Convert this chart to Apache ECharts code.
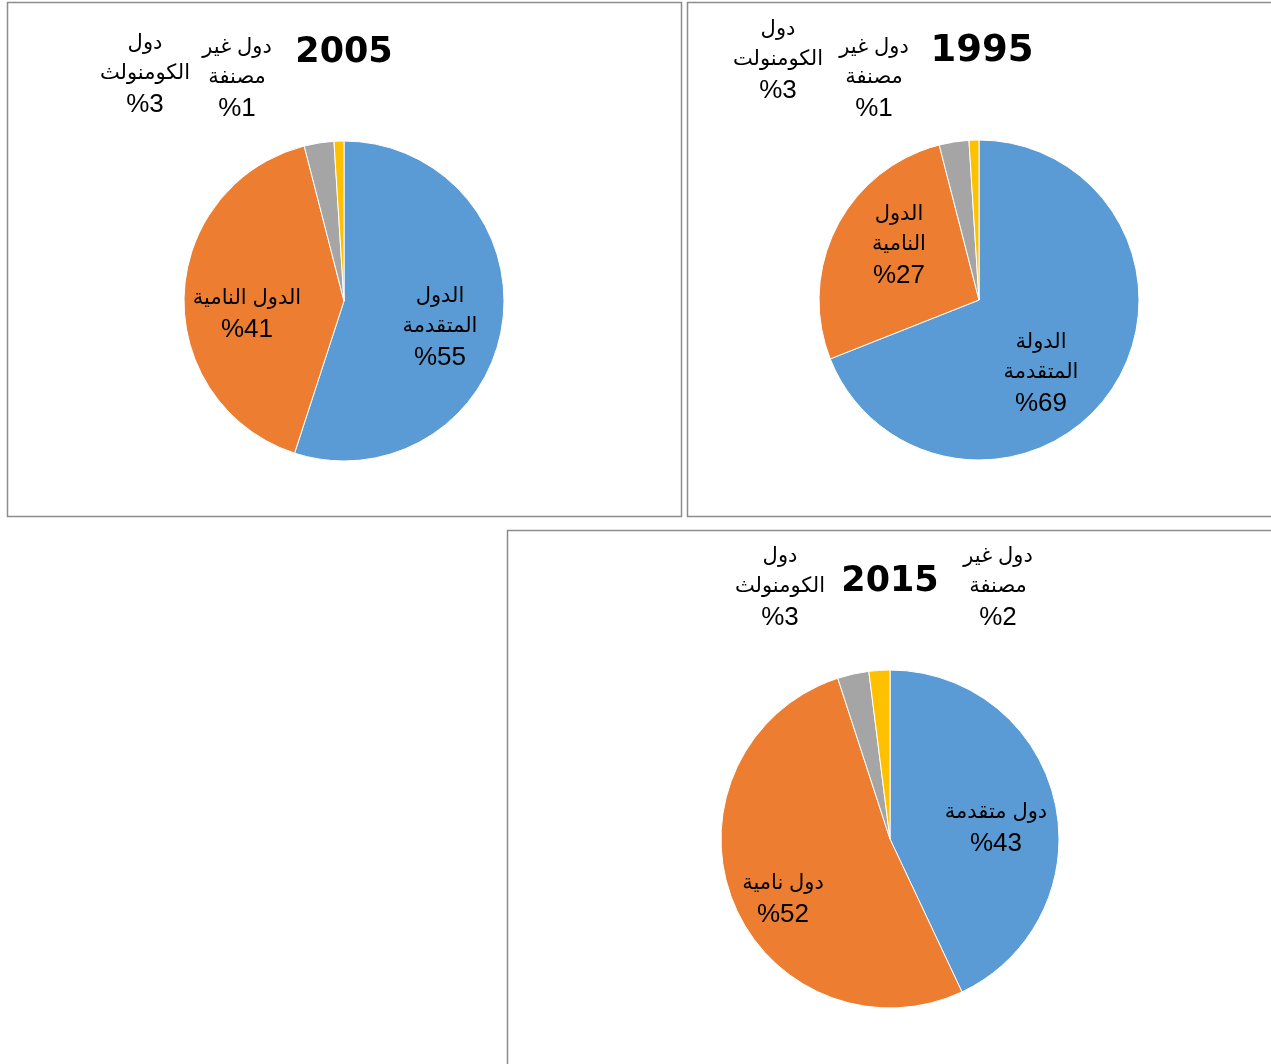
<!DOCTYPE html>
<html>
<head>
<meta charset="utf-8">
<script src="https://cdn.jsdelivr.net/npm/echarts@6/dist/echarts.min.js"></script>
<style>
html,body{margin:0;padding:0;background:#fff;}
#chart{width:1271px;height:1064px;}
</style>
</head>
<body>
<div id="chart"></div>
<script>
// ---- data ----
const years = ['2005', '1995', '2015'];
const names2005 = ['الدول\nالمتقدمة', 'الدول النامية', 'دول\nالكومنولث', 'دول غير\nمصنفة'];
const values2005 = [55, 41, 3, 1];
const names1995 = ['الدولة\nالمتقدمة', 'الدول\nالنامية', 'دول\nالكومنولت', 'دول غير\nمصنفة'];
const values1995 = [69, 27, 3, 1];
const names2015 = ['دول متقدمة', 'دول نامية', 'دول\nالكومنولث', 'دول غير\nمصنفة'];
const values2015 = [43, 52, 3, 2];
const colors = ['#5B9BD5', '#ED7D31', '#A5A5A5', '#FFC000'];

// ---- layout (positions/sizes) ----
const pies = [
  {center: [344, 301], radius: 160, title: [344, 53], titleSize: 35,
   labels: [[440, 328], [247, 315], [145, 75], [237, 79]]},
  {center: [979, 300], radius: 160, title: [982, 51], titleSize: 37,
   labels: [[1041, 374], [899, 246], [778, 61], [874, 79]]},
  {center: [890, 839], radius: 169, title: [890, 582], titleSize: 35,
   labels: [[996, 829], [783, 900], [780, 588], [998, 588]]}
];
const boxes = [[7, 2, 674, 514], [687, 2, 600, 514], [507, 530, 780, 560]];

const allNames = [names2005, names1995, names2015];
const allValues = [values2005, values1995, values2015];

const chart = echarts.init(document.getElementById('chart'), null, {renderer: 'canvas'});

const series = pies.map((p, si) => ({
  type: 'pie',
  center: p.center,
  radius: p.radius,
  startAngle: 90,
  clockwise: true,
  silent: true,
  animation: false,
  itemStyle: {borderColor: '#fff', borderWidth: 1},
  label: {
    show: true,
    position: 'inside',
    formatter: (d) => d.name.split('\n').map(s => '{a|' + s + '}').join('\n') + '\n{n|%' + d.value + '}',
    color: '#000',
    align: 'center',
    rich: {
      a: {fontSize: 21, lineHeight: 30, color: '#000',
          fontFamily: 'Liberation Sans, Arial, DejaVu Sans, sans-serif', align: 'center'},
      n: {fontSize: 26, lineHeight: 33, color: '#000',
          fontFamily: 'Liberation Sans, Arial, sans-serif', align: 'center'}
    }
  },
  labelLine: {show: false},
  labelLayout: (params) => {
    const pos = pies[params.seriesIndex].labels[params.dataIndex];
    return {x: pos[0], y: pos[1], align: 'center', verticalAlign: 'middle'};
  },
  data: allValues[si].map((v, i) => ({
    value: v, name: allNames[si][i], itemStyle: {color: colors[i]}
  }))
}));

const graphics = [];
boxes.forEach(b => {
  graphics.push({
    type: 'rect', silent: true, z: -1,
    shape: {x: b[0] + 0.5, y: b[1] + 0.5, width: b[2], height: b[3]},
    style: {fill: '#fff', stroke: '#8c8c8c', lineWidth: 1.5}
  });
});
pies.forEach((p, i) => {
  graphics.push({
    type: 'text', silent: true,
    x: p.title[0], y: p.title[1],
    style: {
      text: years[i], fill: '#000',
      font: 'bold ' + p.titleSize + 'px "DejaVu Sans", sans-serif',
      align: 'center', verticalAlign: 'middle'
    }
  });
});

chart.setOption({
  animation: false,
  backgroundColor: '#fff',
  graphic: graphics,
  series: series
});
</script>
</body>
</html>
